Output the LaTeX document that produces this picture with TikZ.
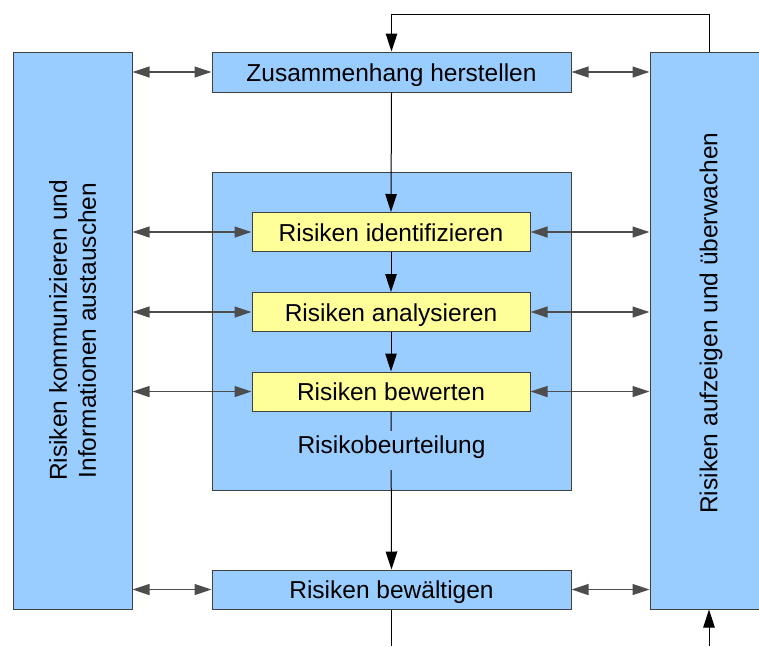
\documentclass[tikz,border=0pt]{standalone}
\usepackage{fontspec}
\setmainfont{Liberation Sans}
\usepackage{xcolor}
\usetikzlibrary{arrows.meta}
\definecolor{RiskBlue}{HTML}{99CCFF}
\definecolor{RiskYellow}{HTML}{FFFF99}
\definecolor{RiskBorder}{HTML}{404040}
\definecolor{RiskLine}{HTML}{4D4D4D}

\begin{document}
\begin{tikzpicture}[
    x=1pt, y=-1pt,
    font=\fontsize{24.5}{29}\selectfont,
    every node/.style={
        inner sep=0pt
    },
    bluebox/.style={
        draw=RiskBorder,
        line width=1pt,
        fill=RiskBlue,
        text height=19pt,
        text depth=1pt
    },
    yellowbox/.style={
        draw=RiskBorder,
        line width=1pt,
        fill=RiskYellow,
        minimum width=278pt,
        minimum height=39pt,
        text height=19pt,
        text depth=1pt
    },
    flow/.style={
        draw=black,
        line width=1pt,
        -{Triangle[length=18pt,width=11.5pt]}
    },
    both/.style={
        draw=RiskLine,
        line width=1.2pt,
        {Triangle[length=17pt,width=11pt]}-{Triangle[length=17pt,width=11pt]}
    }
]

\clip (0,0) rectangle (759,646);

\node[bluebox, minimum width=119pt, minimum height=557pt] (komm) at (72.5,330.5) {};
\node[bluebox, minimum width=118pt, minimum height=557pt] (ueber) at (709,330.5) {};

\node[bluebox, minimum width=359pt, minimum height=40pt] (zus) at (391.5,72) {Zusammenhang herstellen};
\node[bluebox, minimum width=359pt, minimum height=318pt] (beurt) at (391.5,331) {};
\node[bluebox, minimum width=359pt, minimum height=39pt] (bew) at (391.5,589.5) {Risiken bewältigen};

\node[yellowbox] (ident) at (391,232) {Risiken identifizieren};
\node[yellowbox] (anal) at (391,312) {Risiken analysieren};
\node[yellowbox] (bewert) at (391,391.5) {Risiken bewerten};

\node[rotate=90, align=center] (kommtext) at (komm.center) {Risiken kommunizieren und\\Informationen austauschen};
\node[rotate=90] (uebertext) at (711,323) {Risiken aufzeigen und überwachen};

\coordinate (fbtop) at (391.5,14);
\coordinate (bewout) at (391.5,646);
\coordinate (fbin) at (709,646);

% main flow
\draw[flow] (ueber.north) |- (fbtop) -- (zus.north);
\draw[flow] (zus.south) -- (ident.north);
\draw[flow] (ident.south) -- (anal.north);
\draw[flow] (anal.south) -- (bewert.north);
\draw[flow] (bewert.south) -- (bew.north);
\draw[line width=1pt] (bew.south) -- (bewout);
\draw[flow] (fbin) -- (ueber.south);

\node[fill=RiskBlue, text height=19pt, text depth=13.5pt, inner ysep=3.25pt, inner xsep=2pt] (beurtlabel) at (391.5,450.5) {Risikobeurteilung};

% communication
\draw[both] (komm.east |- zus) -- (zus.west);
\draw[both] (komm.east |- ident) -- (ident.west);
\draw[both] (komm.east |- anal) -- (anal.west);
\draw[both] (komm.east |- bewert) -- (bewert.west);
\draw[both] (komm.east |- bew) -- (bew.west);

% monitoring
\draw[both] (zus.east) -- (ueber.west |- zus);
\draw[both] (ident.east) -- (ueber.west |- ident);
\draw[both] (anal.east) -- (ueber.west |- anal);
\draw[both] (bewert.east) -- (ueber.west |- bewert);
\draw[both] (bew.east) -- (ueber.west |- bew);

\end{tikzpicture}
\end{document}
